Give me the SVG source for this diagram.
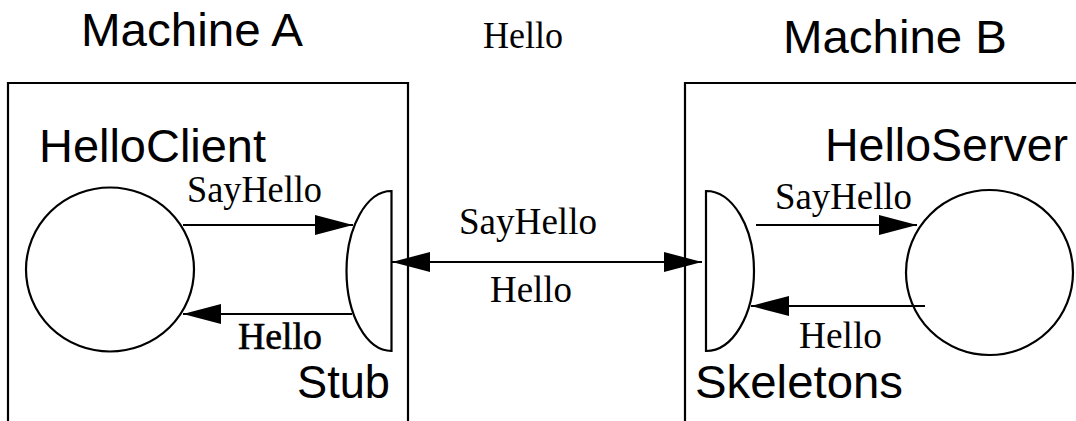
<svg xmlns="http://www.w3.org/2000/svg" width="1076" height="421" viewBox="0 0 1076 421">
  <style>
    .box { fill: none; stroke: #000; stroke-width: 2.2; }
    .shape { fill: #fff; stroke: #000; stroke-width: 2.2; }
    .edge { fill: none; stroke: #000; stroke-width: 2.2; }
    .sans { font-family: "Liberation Sans", Arial, Helvetica, sans-serif; font-size: 46px; fill: #000; }
    .serif { font-family: "Liberation Serif", "Times New Roman", serif; font-size: 37px; fill: #000; }
  </style>
  <defs>
    <marker id="arrow" viewBox="0 0 38 20" refX="38" refY="10" markerWidth="38" markerHeight="20"
            markerUnits="userSpaceOnUse" orient="auto-start-reverse">
      <path d="M0,0 L38,10 L0,20 Z" fill="#000"/>
    </marker>
  </defs>
  <rect width="1076" height="421" fill="#fff"/>

  <!-- Machine A -->
  <g id="machine-a">
    <path class="box" d="M8,430 V83 H408 V430"/>
    <text class="sans" x="81" y="46" textLength="222" lengthAdjust="spacingAndGlyphs">Machine A</text>
  </g>

  <!-- Machine B -->
  <g id="machine-b">
    <path class="box" d="M685,430 V83 H1090"/>
    <text class="sans" x="783" y="53" textLength="224" lengthAdjust="spacingAndGlyphs">Machine B</text>
  </g>

  <!-- Client object -->
  <g id="hello-client">
    <ellipse class="shape" cx="110" cy="269.5" rx="84" ry="82"/>
    <text class="sans" x="39" y="162" textLength="227" lengthAdjust="spacingAndGlyphs">HelloClient</text>
  </g>

  <!-- Stub -->
  <g id="stub">
    <path class="shape" d="M391.5,191 A45,80 0 0 0 391.5,351 Z"/>
    <text class="sans" x="297" y="398" textLength="93" lengthAdjust="spacingAndGlyphs">Stub</text>
  </g>

  <!-- Skeleton -->
  <g id="skeleton">
    <path class="shape" d="M706,191 A48,80 0 0 1 706,351 Z"/>
    <text class="sans" x="695" y="398" textLength="208" lengthAdjust="spacingAndGlyphs">Skeletons</text>
  </g>

  <!-- Server object -->
  <g id="hello-server">
    <ellipse class="shape" cx="989.5" cy="272.5" rx="83.5" ry="82.5"/>
    <text class="sans" x="825" y="161" textLength="243" lengthAdjust="spacingAndGlyphs">HelloServer</text>
  </g>

  <!-- Connectors -->
  <g id="connectors">
    <line class="edge" x1="183" y1="225" x2="353" y2="225" marker-end="url(#arrow)"/>
    <line class="edge" x1="352" y1="314" x2="183" y2="314" marker-end="url(#arrow)"/>
    <line class="edge" x1="392" y1="262" x2="702" y2="262" marker-start="url(#arrow)" marker-end="url(#arrow)"/>
    <line class="edge" x1="756" y1="225" x2="917" y2="225" marker-end="url(#arrow)"/>
    <line class="edge" x1="925" y1="306" x2="751" y2="306" marker-end="url(#arrow)"/>
  </g>

  <!-- Message labels -->
  <g id="labels">
    <text class="serif" x="483" y="48" textLength="80" lengthAdjust="spacingAndGlyphs">Hello</text>
    <text class="serif" x="187" y="202" textLength="135" lengthAdjust="spacingAndGlyphs">SayHello</text>
    <text class="serif" x="238" y="349" textLength="84" lengthAdjust="spacingAndGlyphs" stroke="#000" stroke-width="0.6">Hello</text>
    <text class="serif" x="459" y="234" textLength="138" lengthAdjust="spacingAndGlyphs">SayHello</text>
    <text class="serif" x="490" y="302" textLength="82" lengthAdjust="spacingAndGlyphs">Hello</text>
    <text class="serif" x="775" y="209" textLength="137" lengthAdjust="spacingAndGlyphs">SayHello</text>
    <text class="serif" x="799" y="348" textLength="83" lengthAdjust="spacingAndGlyphs">Hello</text>
  </g>
</svg>
